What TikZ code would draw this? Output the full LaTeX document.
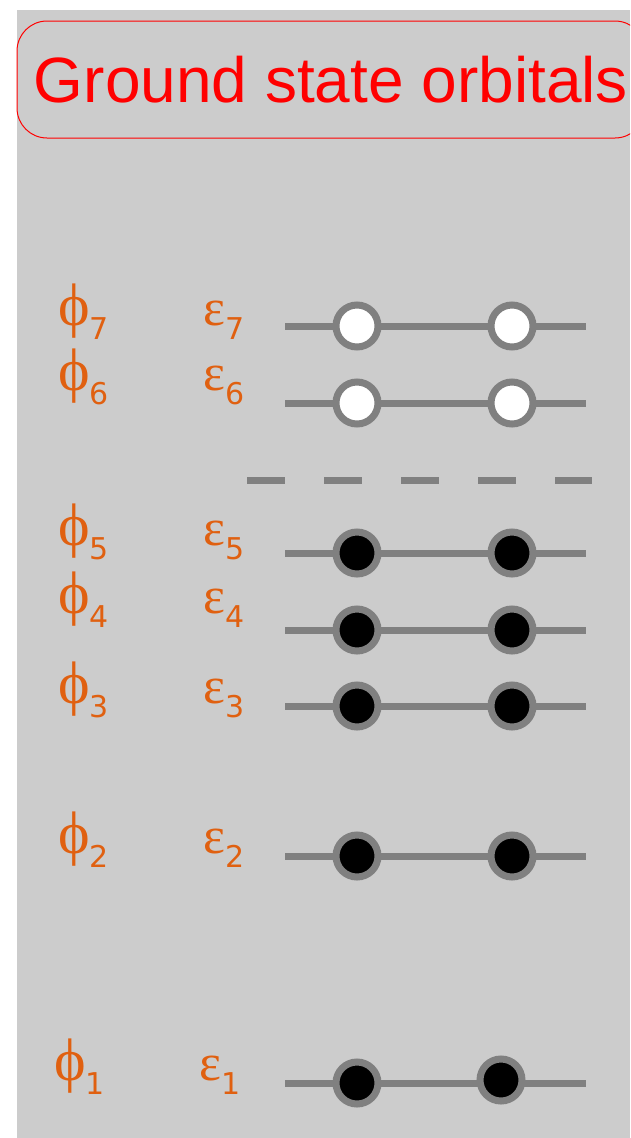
\documentclass[tikz,border=0pt]{standalone}
\usepackage{fontspec}
\setmainfont{Liberation Sans}
\newfontfamily\greekfont{Liberation Serif}
\newfontfamily\indexfont{DejaVu Sans}

\definecolor{bggray}{RGB}{204,204,204}
\definecolor{levelgray}{RGB}{128,128,128}
\definecolor{laborange}{RGB}{224,96,16}

% orbital label with lowered index
\newcommand{\orb}[2]{#1\raisebox{-14pt}{\fontsize{30}{34}\indexfont #2}}

\begin{document}
\begin{tikzpicture}[
    x=1pt,
    y=-1pt,
    level/.style={
        draw=levelgray,
        line width=7pt
    },
    occupied/.style={
        circle,
        draw=levelgray,
        fill=black,
        line width=7pt,
        minimum size=42pt,
        inner sep=0pt
    },
    vacant/.style={
        occupied,
        fill=white
    },
    lab/.style={
        anchor=base west,
        inner sep=0pt,
        text=laborange,
        font=\fontsize{52}{56}\greekfont
    },
    philab/.style={
        lab,
        font=\fontsize{60}{64}\greekfont
    },
    titlebox/.style={
        draw=red,
        line width=1pt,
        rounded corners=30pt,
        minimum width=628pt,
        minimum height=117pt,
        inner sep=0pt,
        text=red,
        font=\fontsize{64}{72}\selectfont
    }
]

\useasboundingbox (0,0) rectangle (630,1138);
\clip (0,0) rectangle (630,1138);

% Background panel
\fill[bggray] (17,10) rectangle (630,1138);

% Title
\node[titlebox] (title) at (331,79.5) {Ground state orbitals};

% Levels from the top down: index / line height / label baseline / filling
\foreach \n/\ypos/\lpos/\kind in {
    7/326/325/vacant,
    6/403/390/vacant,
    5/553/545/occupied,
    4/630/613/occupied,
    3/706/703/occupied,
    2/856/853/occupied}{
    \coordinate (L\n) at (285,\ypos);
    \coordinate (R\n) at (586,\ypos);
    \draw[level] (L\n) -- (R\n);

    \node[\kind] (a\n) at (357,\ypos) {};
    \node[\kind] (b\n) at (512,\ypos) {};

    \node[philab] (phi\n) at (58,\lpos) {\orb{ϕ}{\n}};
    \node[lab] (eps\n) at (203,\lpos) {\orb{ε}{\n}};
}

% Lowest level, second electron sits a bit off
\coordinate (L1) at (285,1083);
\coordinate (R1) at (586,1083);
\draw[level] (L1) -- (R1);
\node[occupied] (a1) at (357,1083) {};
\node[occupied] (b1) at (501,1080) {};
\node[philab] (phi1) at (54,1080) {\orb{ϕ}{1}};
\node[lab] (eps1) at (199,1080) {\orb{ε}{1}};

% Fermi level
\coordinate (F1) at (247,480);
\coordinate (F2) at (592,480);
\draw[level, dash pattern=on 38pt off 39pt] (F1) -- (F2);

\end{tikzpicture}
\end{document}
